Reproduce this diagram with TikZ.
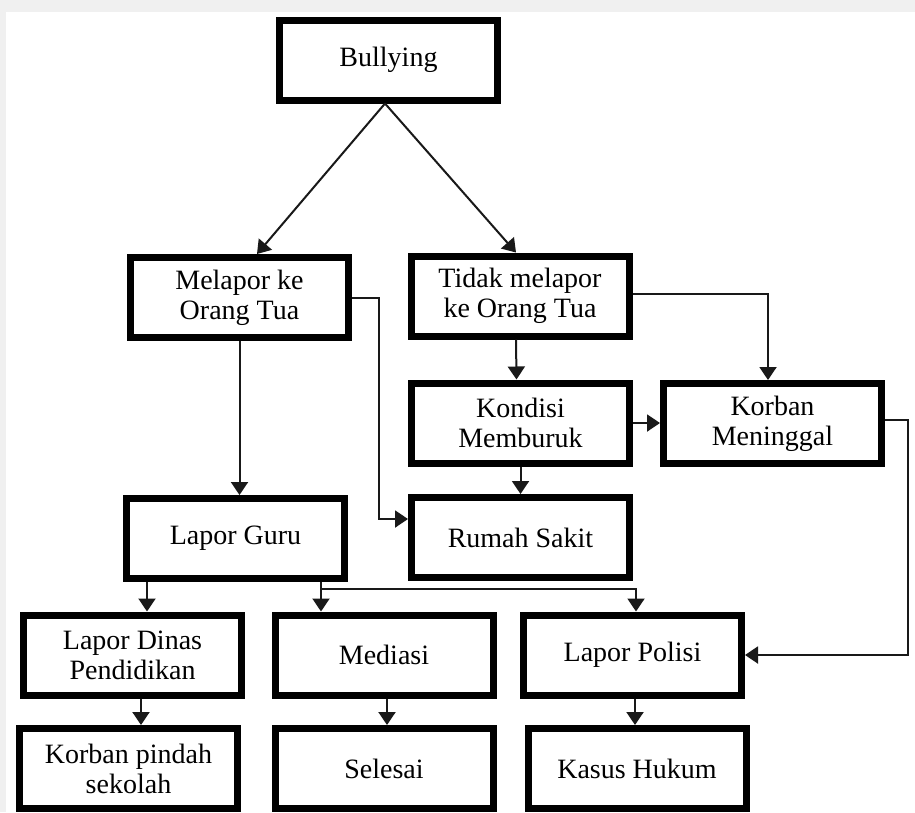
\documentclass[tikz,border=0pt]{standalone}
\usepackage{fontspec}
\setmainfont{Liberation Serif}
\usetikzlibrary{arrows.meta}
\begin{document}
\begin{tikzpicture}[x=1pt,y=-1pt,
  box/.style={draw=black, line width=7pt, minimum width=218pt, minimum height=80pt,
    inner sep=0pt, align=center, fill=white,
    font=\fontsize{28}{30}\selectfont},
  conn/.style={line width=2pt, draw=black!90},
  arr/.style={conn, -{Triangle[width=17pt,length=13pt]}},
]
\useasboundingbox (0,0) rectangle (915,812);
\fill[white] (0,0) rectangle (915,812);
\fill[black!6] (0,0) rectangle (915,12);
\fill[black!6] (0,0) rectangle (6,812);

\node[box] (bul) at (388.5,60) {Bullying};
\node[box] (mel) at (239.5,297.5) {Melapor ke\\Orang Tua};
\node[box] (tid) at (520,296) {Tidak melapor\\ke Orang Tua};
\node[box] (kon) at (520.5,423) {Kondisi\\Memburuk};
\node[box] (kor) at (772.5,423.5) {Korban\\Meninggal};
\node[box] (gur) at (235.5,538.5) {Lapor Guru};
\node[box] (rum) at (520.5,537.5) {Rumah Sakit};
\node[box] (din) at (132.5,655) {Lapor Dinas\\Pendidikan};
\node[box] (med) at (384,655) {Mediasi};
\node[box] (pol) at (632.5,655) {Lapor Polisi};
\node[box] (pin) at (128.5,768.5) {Korban pindah\\sekolah};
\node[box] (sel) at (384,768.5) {Selesai};
\node[box] (kas) at (637,768.5) {Kasus Hukum};

\coordinate (c1) at (379,519);
\coordinate (c3) at (908,0);
\coordinate (c4) at (147,0);
\coordinate (c5) at (321,0);
\coordinate (c6) at (636,589);
\coordinate (c7) at (141,0);
\coordinate (c8) at (387,0);
\coordinate (c9) at (635,0);

\draw[arr] ([xshift=-3.5pt]bul.south) -- ([xshift=17.5pt]mel.north);
\draw[arr] ([xshift=-3.5pt]bul.south) -- ([xshift=-4pt]tid.north);
\draw[arr] (mel.south) -- (mel.south |- gur.north);
\draw[arr] (mel.east) -| (c1) -- (c1 -| rum.west);
\draw[arr] ([xshift=-4pt]tid.south) -- ([xshift=-4pt]kon.north);
\draw[arr] ([yshift=2pt]tid.east) -| ([xshift=-4.5pt]kor.north);
\draw[arr] (kon.east) -- (kon.east -| kor.west);
\draw[arr] (kon.south) -- (rum.north);
\draw[arr] ([yshift=4pt]kor.east) -| (c3 |- pol.east) -- (pol.east);
\draw[arr] (gur.south -| c4) -- (din.north -| c4);
\draw[arr] (gur.south -| c5) -- (med.north -| c5);
\draw[arr] (c6 -| c5) -- (c6) -- (pol.north -| c6);
\draw[arr] (din.south -| c7) -- (pin.north -| c7);
\draw[arr] (med.south -| c8) -- (sel.north -| c8);
\draw[arr] (pol.south -| c9) -- (kas.north -| c9);
\end{tikzpicture}
\end{document}
